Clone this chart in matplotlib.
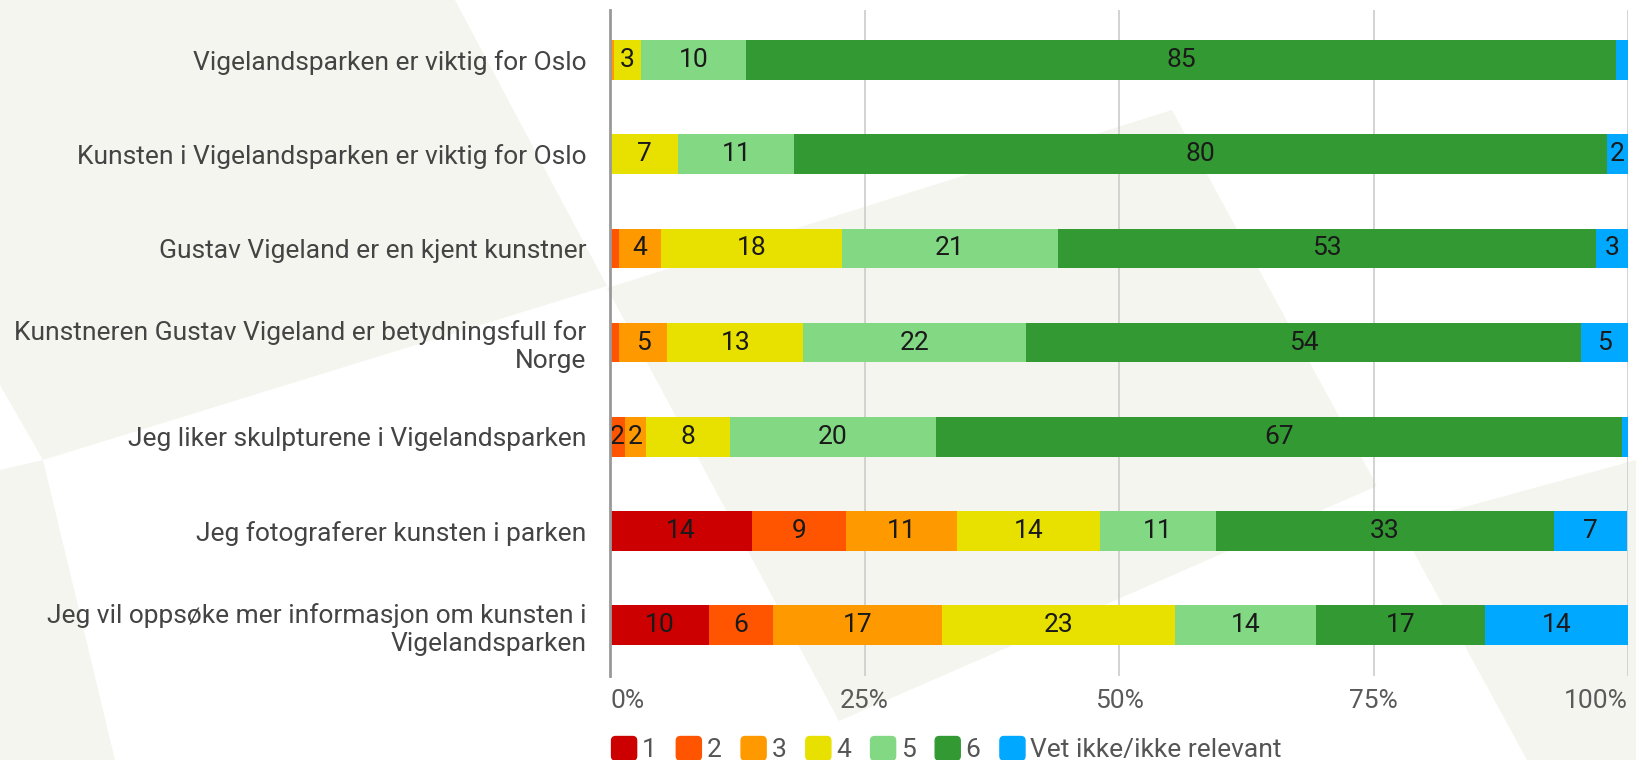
import numpy as np
import matplotlib
matplotlib.use("Agg")
import matplotlib.pyplot as plt
from matplotlib.patches import Polygon, FancyBboxPatch, Rectangle
from matplotlib.legend_handler import HandlerPatch

plt.rcParams['font.family'] = ['Roboto', 'DejaVu Sans']

questions = [
    "Vigelandsparken er viktig for Oslo",
    "Kunsten i Vigelandsparken er viktig for Oslo",
    "Gustav Vigeland er en kjent kunstner",
    "Kunstneren Gustav Vigeland er betydningsfull for\nNorge",
    "Jeg liker skulpturene i Vigelandsparken",
    "Jeg fotograferer kunsten i parken",
    "Jeg vil oppsøke mer informasjon om kunsten i\nVigelandsparken",
]
categories = ["1", "2", "3", "4", "5", "6", "Vet ikke/ikke relevant"]
colors = ["#cc0000", "#ff5500", "#ff9900", "#e8e100", "#82d883", "#339933", "#00a8ff"]

# share in percent, one list per answer category, rows follow `questions`
ans_1 = [0.0, 0.0, 0.0, 0.0, 0.0, 13.9, 9.7]
ans_2 = [0.0, 0.0, 0.9, 0.9, 1.5, 9.3, 6.3]
ans_3 = [0.4, 0.0, 4.1, 4.7, 2.0, 10.9, 16.6]
ans_4 = [2.6, 6.7, 17.8, 13.4, 8.3, 14.0, 22.9]
ans_5 = [10.4, 11.4, 21.2, 21.9, 20.2, 11.4, 13.9]
ans_6 = [85.4, 79.8, 52.9, 54.5, 67.4, 33.2, 16.6]
ans_vet = [1.2, 2.1, 3.1, 4.6, 0.6, 7.2, 14.0]
series = [ans_1, ans_2, ans_3, ans_4, ans_5, ans_6, ans_vet]

xticks = [0, 25, 50, 75, 100]
xticklabels = ["0%", "25%", "50%", "75%", "100%"]

FS = 19
W, H = 1636, 760
fig = plt.figure(figsize=(W / 100, H / 100), dpi=100)
fig.patch.set_facecolor("white")

# faint beige background shapes (pixel coords, y from top)
beige = "#f5f5ef"
shapes = [
    [(0, 0), (455, 0), (607, 286), (43, 460), (0, 385)],
    [(0, 470), (43, 460), (115, 760), (0, 760)],
    [(607, 288), (1172, 110), (1377, 486), (839, 721)],
    [(1399, 525), (1636, 460), (1636, 760), (1527, 760)],
]
for pts in shapes:
    xy = [(x / W, 1 - y / H) for x, y in pts]
    fig.patches.append(Polygon(xy, closed=True, transform=fig.transFigure,
                               facecolor=beige, edgecolor="none", zorder=-10))

ax = fig.add_axes([610 / W, 1 - 676 / H, (1628 - 610) / W, (676 - 10) / H])
ax.set_facecolor("none")
ax.set_zorder(1)

y = np.arange(len(questions))
left = np.zeros(len(questions))
for vals, col, name in zip(series, colors, categories):
    vals = np.array(vals)
    ax.barh(y, vals, left=left, height=0.42, color=col, label=name, zorder=3)
    for yi, (l, v) in enumerate(zip(left, vals)):
        if v >= 1.4:
            ax.text(l + v / 2, yi, "%d" % round(v), ha="center", va="center",
                    fontsize=FS, color="#1a1a1a", zorder=4)
    left += vals

ax.set_xlim(0, 100)
ax.set_ylim(len(questions) - 0.46, -0.53)
ax.set_yticks(y)
ax.set_yticklabels(questions, fontsize=FS, color="#444444")
ax.set_xticks(xticks)
ax.set_xticklabels(xticklabels, fontsize=FS, color="#5a5a5a")
ax.get_xticklabels()[0].set_ha("left")
ax.get_xticklabels()[-1].set_ha("right")
ax.tick_params(axis="y", length=0, pad=17)
ax.tick_params(axis="x", length=0, pad=9)

for sp in ["top", "right", "bottom"]:
    ax.spines[sp].set_visible(False)
ax.spines["left"].set_color("#999999")
ax.spines["left"].set_linewidth(2)
ax.spines["left"].set_zorder(5)

for xv in xticks[1:]:
    ax.axvline(xv, color="#cccccc", linewidth=1.2, zorder=1)


def rounded_box(legend, orig_handle, xdescent, ydescent, width, height, fontsize):
    return FancyBboxPatch((-xdescent, -ydescent), width, height,
                          boxstyle="round,pad=0,rounding_size=3")


handles = [Rectangle((0, 0), 1, 1, color=c) for c in colors]
leg = fig.legend(handles, categories, loc="lower left",
                 bbox_to_anchor=(601 / W, -0.017), ncol=7,
                 frameon=False, fontsize=FS, handlelength=0.95, handleheight=1.0,
                 handletextpad=0.2, columnspacing=0.74, borderaxespad=0,
                 handler_map={Rectangle: HandlerPatch(patch_func=rounded_box)})
for t in leg.get_texts():
    t.set_color("#555555")

fig.savefig("out.png", dpi=100, facecolor=fig.get_facecolor())
